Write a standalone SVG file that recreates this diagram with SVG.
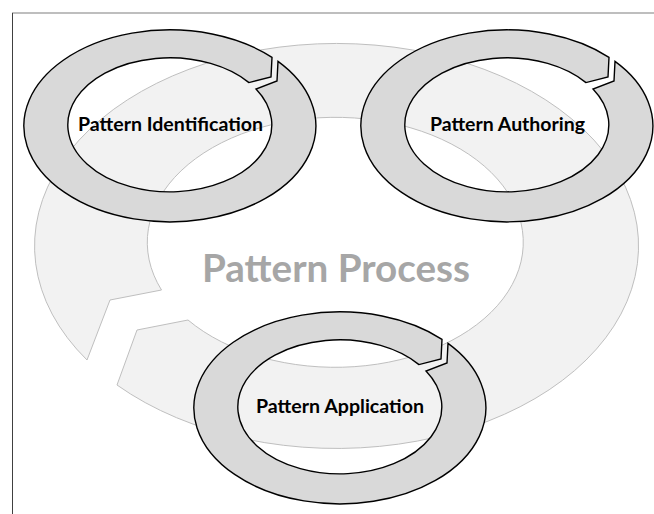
<svg xmlns="http://www.w3.org/2000/svg" xmlns:xlink="http://www.w3.org/1999/xlink" width="654" height="514" viewBox="0 0 654 514">
  <style>
    .bg { fill: #f2f2f2; stroke: #bfbfbf; stroke-width: 1; }
    .ring { fill: #d9d9d9; stroke: #000000; stroke-width: 1.4; stroke-linejoin: miter; }
    .lbl { font-family: Lato, "Open Sans", "Liberation Sans", sans-serif; font-weight: bold; font-size: 19px; fill: #000000; text-anchor: middle; }
    .big { font-family: Lato, "Open Sans", "Liberation Sans", sans-serif; font-weight: bold; font-size: 38px; fill: #a6a6a6; text-anchor: middle; }
  </style>
  <defs>
    <path id="ringShape" class="ring" d="M 108 -64.6 A 146 96 0 1 1 102 -68.7 L 101 -49 L 79 -43.4 A 102 67 0 1 0 86 -37 L 107 -45 Z"/>
  </defs>
  <rect x="0" y="0" width="654" height="514" fill="#ffffff"/>
  <g id="frame">
    <line x1="12" y1="13" x2="654" y2="13" stroke="#7f7f7f" stroke-width="1.2"/>
    <line x1="12.5" y1="13" x2="12.5" y2="514" stroke="#404040" stroke-width="1"/>
  </g>
  <g id="pattern-process">
    <path class="bg" d="M 87 360 A 302 202.5 0 1 1 117 385 L 137 330 L 188 320 A 188 125 0 1 0 161.5 290 L 110 300 Z"/>
    <text class="big" x="336" y="282" textLength="268" lengthAdjust="spacingAndGlyphs">Pattern Process</text>
  </g>
  <g id="connectors"></g>
  <g id="pattern-identification">
    <use xlink:href="#ringShape" href="#ringShape" transform="translate(170,126)"/>
    <text class="lbl" x="170.5" y="131" textLength="185" lengthAdjust="spacingAndGlyphs">Pattern Identification</text>
  </g>
  <g id="pattern-authoring">
    <use xlink:href="#ringShape" href="#ringShape" transform="translate(507,126)"/>
    <text class="lbl" x="507.5" y="131" textLength="155" lengthAdjust="spacingAndGlyphs">Pattern Authoring</text>
  </g>
  <g id="pattern-application">
    <use xlink:href="#ringShape" href="#ringShape" transform="translate(340,408)"/>
    <text class="lbl" x="340" y="413" textLength="168" lengthAdjust="spacingAndGlyphs">Pattern Application</text>
  </g>
</svg>
